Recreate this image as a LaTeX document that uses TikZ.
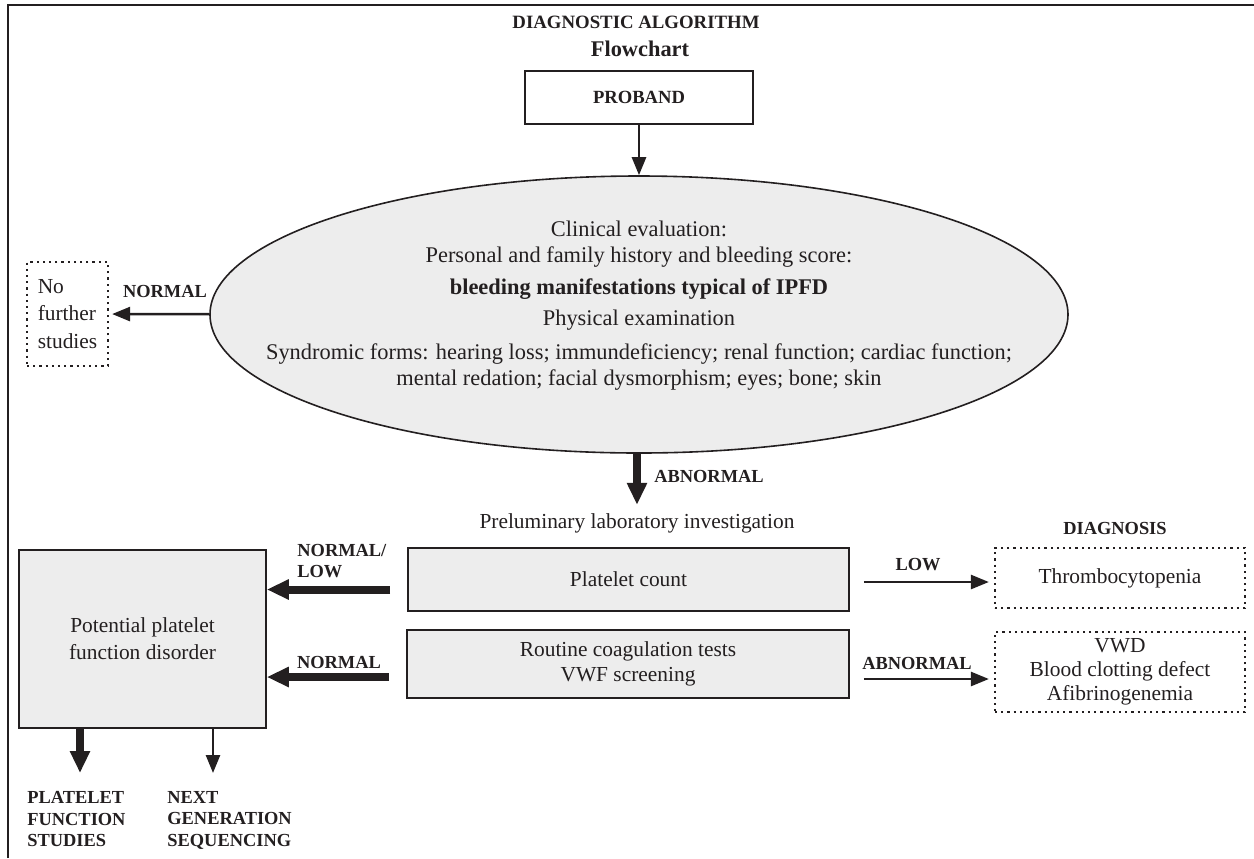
\documentclass[tikz,border=0pt]{standalone}
\usepackage{fontspec}
\setmainfont{Liberation Serif}
\usepackage{tikz}
\usetikzlibrary{arrows.meta,positioning,shapes.geometric}
\definecolor{algoink}{HTML}{231F20}
\definecolor{algofill}{HTML}{EDEDED}

\begin{document}
\begin{tikzpicture}[
  x=0.5pt, y=-0.5pt,
  every node/.style={text=algoink},
  box/.style={draw=algoink, line width=0.8pt, fill=algofill, align=center, font=\fontsize{10.7}{12.5}\selectfont},
  dotbox/.style={draw=algoink, line width=1.1pt, dash pattern=on 1.1pt off 2pt, align=center, font=\fontsize{10.7}{12}\selectfont},
  oval/.style={ellipse, draw=algoink, line width=0.8pt, fill=algofill, inner sep=0pt, minimum width=429pt, minimum height=138.5pt},
  txt/.style={font=\fontsize{10.7}{13}\selectfont, align=center, inner sep=0pt},
  tag/.style={font=\fontsize{9.2}{10.6}\selectfont\bfseries, inner sep=0pt},
  arrow/.style={-{Triangle[length=9pt,width=7pt]}, line width=1.3pt, draw=algoink},
  bigarrow/.style={-{Triangle[length=11pt,width=9.5pt]}, line width=4pt, draw=algoink}
]
\useasboundingbox (0,0) rectangle (1254,858);
\draw[algoink, line width=1.1pt] (8,858) -- (8,5) -- (1254,5);

% heading
\node[tag, font=\fontsize{9.4}{11}\selectfont\bfseries] (head) at (636,22) {DIAGNOSTIC ALGORITHM};
\node[tag, font=\fontsize{11.2}{13}\selectfont\bfseries] (flow) at (640,49) {Flowchart};
\node[box, fill=white, minimum width=114pt, minimum height=26.5pt, font=\fontsize{9.3}{11}\selectfont\bfseries] (proband) at (639,97.5) {PROBAND};

% clinical evaluation
\node[oval] (clin) at (639,314.5) {};
\node[txt, font=\fontsize{11.2}{13}\selectfont] (clintext) at (639,306) {Clinical evaluation:\\
  Personal and family history and bleeding score:\\[3pt]
  \textbf{bleeding manifestations typical of IPFD}\\[2.5pt]
  Physical examination\\[4pt]
  Syndromic forms: hearing loss; immundeficiency; renal function; cardiac function;\\
  mental redation; facial dysmorphism; eyes; bone; skin};
\node[dotbox, align=left, minimum width=40.5pt, minimum height=52pt, font=\fontsize{10.7}{13.75}\selectfont] (nofurther) at (67.5,314) {No\\further\\studies};
\node[tag] (normaltop) at (165,291) {NORMAL};

% laboratory
\node[tag] (abn) at (709,476) {ABNORMAL};
\node[txt] (prelim) at (637,523) {Preluminary laboratory investigation};
\node[box, minimum width=220.5pt, minimum height=31.5pt] (platelet) at (628.5,579.5) {Platelet count};
\node[box, minimum width=221pt, minimum height=34pt] (routine) at (628,664) {Routine coagulation tests\\VWF screening};
\node[box, minimum width=123.5pt, minimum height=89pt, font=\fontsize{10.7}{13.5}\selectfont] (ppfd) at (142.5,639) {Potential platelet\\function disorder};
\node[tag, align=left, anchor=north west] (normlow) at (297,544) {NORMAL/\\LOW};
\node[tag] (normal) at (339,662) {NORMAL};

% diagnosis
\node[dotbox, minimum width=125pt, minimum height=30pt] (thrombo) at (1120,578) {Thrombocytopenia};
\node[dotbox, minimum width=125pt, minimum height=40pt] (vwd) at (1120,672) {VWD\\Blood clotting defect\\Afibrinogenemia};
\node[tag, above=6pt of thrombo, xshift=-2.5pt] (diag) {DIAGNOSIS};
\node[tag] (low) at (918,565) {LOW};
\node[tag] (abnright) at (917,663) {ABNORMAL};

% further studies
\node[tag, align=left, anchor=north west, font=\fontsize{9.2}{10.75}\selectfont\bfseries] (pfs) at (27,791) {PLATELET\\FUNCTION\\STUDIES};
\node[tag, align=left, anchor=north west, font=\fontsize{9.2}{10.75}\selectfont\bfseries] (ngs) at (167,791) {NEXT\\GENERATION\\SEQUENCING};

\draw[arrow] (proband) -- (clin);
\draw[arrow, shorten >=1.5pt] (clin) -- (nofurther);
\draw[bigarrow, shorten >=4pt] (prelim.north |- clin.south) -- (prelim.north);
\draw[bigarrow, shorten <=8.5pt] ([yshift=-5pt]platelet.west) -- ([yshift=-5pt]platelet.west -| ppfd.east);
\draw[bigarrow, shorten <=8.5pt] ([yshift=-6.5pt]routine.west) -- ([yshift=-6.5pt]routine.west -| ppfd.east);
\draw[arrow, shorten <=7pt, shorten >=2.5pt] ([yshift=-1.25pt]platelet.east) -- ([yshift=-1.25pt]platelet.east -| thrombo.west);
\draw[arrow, shorten <=7pt, shorten >=2.5pt] ([yshift=-7.5pt]routine.east) -- ([yshift=-7.5pt]routine.east -| vwd.west);
\draw[bigarrow, shorten >=9pt] ([xshift=-31.25pt]ppfd.south) -- ([xshift=-31.25pt]ppfd.south |- pfs.north);
\draw[arrow, shorten >=9pt] ([xshift=35.25pt]ppfd.south) -- ([xshift=35.25pt]ppfd.south |- ngs.north);
\end{tikzpicture}
\end{document}
